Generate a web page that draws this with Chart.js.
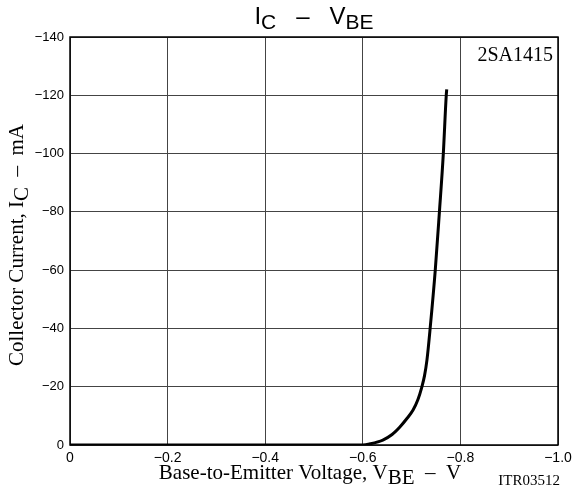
<!DOCTYPE html>
<html>
<head>
<meta charset="utf-8">
<script src="https://cdn.jsdelivr.net/npm/chart.js@4"></script>
<style>
html,body{margin:0;padding:0;background:#fff;}
#wrap{width:581px;height:492px;}
</style>
</head>
<body>
<div id="wrap"><canvas id="c" width="581" height="492"></canvas></div>
<script>
// Data (V_BE in V, I_C in mA)
const vbe = [0, -0.3, -0.6, -0.615, -0.641, -0.66, -0.676, -0.69, -0.703, -0.713, -0.7205, -0.7265, -0.7315, -0.738, -0.7485, -0.757, -0.765, -0.771, -0.772];
const ic  = [0, 0, 0, -0.4, -1.7, -3.6, -6.2, -9, -12, -15.6, -19.6, -23.8, -29.2, -40, -60, -80, -100, -120, -122];
const xTickValues = [0, -0.2, -0.4, -0.6, -0.8, -1.0];
const yTickValues = [0, -20, -40, -60, -80, -100, -120, -140];
const deviceLabel = "2SA1415";
const figureCode = "ITR03512";

const points = vbe.map((v, i) => ({x: v, y: ic[i]}));

function drawRich(ctx, segs, x, y, align) {
  let total = 0;
  segs.forEach(s => { ctx.font = s.font; total += ctx.measureText(s.t).width; });
  let cx = align === 'center' ? x - total / 2 : (align === 'right' ? x - total : x);
  ctx.textAlign = 'left';
  ctx.textBaseline = 'alphabetic';
  segs.forEach(s => {
    ctx.font = s.font;
    ctx.fillText(s.t, cx, y + (s.dy || 0));
    cx += ctx.measureText(s.t).width;
  });
}

const textPlugin = {
  id: 'texts',
  afterDraw(chart) {
    const ctx = chart.ctx;
    const a = chart.chartArea;
    ctx.save();
    ctx.strokeStyle = '#000';
    ctx.lineWidth = 1.5;
    ctx.strokeRect(a.left, a.top, a.right - a.left, a.bottom - a.top);
    ctx.fillStyle = '#000';
    const sans = '"Liberation Sans", Arial, sans-serif';
    const serif = '"Liberation Serif", "Times New Roman", serif';
    // title
    drawRich(ctx, [
      {t: 'I', font: '24px ' + sans},
      {t: 'C', font: '21px ' + sans, dy: 5},
      {t: '   \u2013   ', font: '24px ' + sans},
      {t: 'V', font: '24px ' + sans},
      {t: 'BE', font: '21px ' + sans, dy: 5}
    ], 314, 24, 'center');
    // device label
    ctx.font = '20px ' + serif;
    ctx.textAlign = 'right';
    ctx.textBaseline = 'alphabetic';
    ctx.fillText(deviceLabel, 553, 61);
    // x axis title
    drawRich(ctx, [
      {t: 'Base-to-Emitter Voltage, V', font: '21px ' + serif},
      {t: 'BE', font: '21px ' + serif, dy: 5},
      {t: '  \u2013  V', font: '21px ' + serif}
    ], 310, 479, 'center');
    // figure code
    ctx.font = '15px ' + serif;
    ctx.textAlign = 'right';
    ctx.fillText(figureCode, 560, 485);
    // y axis title
    ctx.save();
    ctx.translate(23, 245);
    ctx.rotate(-Math.PI / 2);
    drawRich(ctx, [
      {t: 'Collector Current, I', font: '21px ' + serif},
      {t: 'C', font: '21px ' + serif, dy: 5},
      {t: '  \u2013  mA', font: '21px ' + serif}
    ], 0, 0, 'center');
    ctx.restore();
    ctx.restore();
  }
};

new Chart(document.getElementById('c'), {
  type: 'line',
  data: {
    datasets: [{
      data: points,
      borderColor: '#000',
      borderWidth: 3,
      pointRadius: 0,
      fill: false,
      cubicInterpolationMode: 'monotone'
    }]
  },
  options: {
    responsive: false,
    animation: false,
    events: [],
    layout: {padding: {top: 37, right: 23, left: 0, bottom: 0}},
    plugins: {legend: {display: false}, tooltip: {enabled: false}, title: {display: false}},
    scales: {
      x: {
        type: 'linear',
        reverse: true,
        min: -1.0, max: 0,
        afterBuildTicks: s => { s.ticks = xTickValues.map(v => ({value: v})); },
        afterFit: s => { s.height = 47; },
        ticks: {
          color: '#000',
          font: {family: '"Liberation Sans", Arial, sans-serif', size: 14},
          padding: 5,
          maxRotation: 0,
          callback: v => (v === 0 ? '0' : '\u2212' + Math.abs(v).toFixed(1))
        },
        grid: {color: '#444', lineWidth: 1, drawTicks: false},
        border: {display: false}
      },
      y: {
        type: 'linear',
        reverse: true,
        min: -140, max: 0,
        afterBuildTicks: s => { s.ticks = yTickValues.map(v => ({value: v})); },
        afterFit: s => { s.width = 70; },
        ticks: {
          color: '#000',
          font: {family: '"Liberation Sans", Arial, sans-serif', size: 13},
          padding: 6,
          callback: v => (v === 0 ? '0' : '\u2212' + String(Math.abs(v)))
        },
        grid: {color: '#444', lineWidth: 1, drawTicks: false},
        border: {display: false}
      }
    }
  },
  plugins: [textPlugin]
});
</script>
</body>
</html>
